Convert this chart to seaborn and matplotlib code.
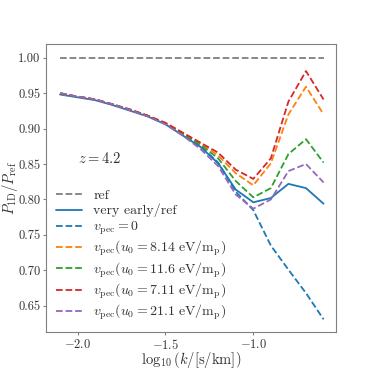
import numpy as np
import pandas as pd
import matplotlib
matplotlib.use("Agg")
import matplotlib.pyplot as plt
import seaborn as sns

sns.set_style("ticks")
plt.rcParams.update({
    "font.family": "serif",
    "font.serif": ["cmr10", "DejaVu Serif"],
    "mathtext.fontset": "cm",
    "axes.formatter.use_mathtext": True,
    "font.size": 10.5,
    "axes.edgecolor": "#808080",
    "xtick.color": "#808080",
    "ytick.color": "#808080",
    "xtick.labelcolor": "#333333",
    "ytick.labelcolor": "#333333",
})

# log10(k / [s/km])
logk = [-2.1, -2.0, -1.9, -1.8, -1.7, -1.6, -1.5, -1.4, -1.3, -1.2, -1.1,
        -1.0, -0.9, -0.8, -0.7, -0.6]

ref = [1.0] * len(logk)
very_early = [0.948, 0.944, 0.940, 0.933, 0.925, 0.917, 0.906, 0.890, 0.874,
              0.851, 0.814, 0.796, 0.802, 0.822, 0.816, 0.794]
vpec_zero = [0.949, 0.945, 0.941, 0.934, 0.926, 0.918, 0.907, 0.891, 0.875,
             0.852, 0.811, 0.785, 0.735, 0.701, 0.668, 0.631]
vpec_814 = [0.949, 0.945, 0.941, 0.934, 0.926, 0.918, 0.908, 0.893, 0.879,
            0.862, 0.837, 0.820, 0.851, 0.920, 0.959, 0.920]
vpec_116 = [0.949, 0.945, 0.941, 0.934, 0.926, 0.918, 0.907, 0.892, 0.877,
            0.858, 0.826, 0.803, 0.816, 0.864, 0.885, 0.852]
vpec_711 = [0.950, 0.945, 0.941, 0.934, 0.927, 0.918, 0.908, 0.894, 0.880,
            0.866, 0.842, 0.829, 0.858, 0.938, 0.981, 0.941]
vpec_211 = [0.950, 0.945, 0.941, 0.934, 0.926, 0.917, 0.906, 0.890, 0.871,
            0.847, 0.807, 0.787, 0.800, 0.840, 0.850, 0.824]

series = [
    ("ref", ref, "tab:gray", "--"),
    ("very early/ref", very_early, "tab:blue", "-"),
    (r"$v_{\rm pec}=0$", vpec_zero, "tab:blue", "--"),
    (r"$v_{\rm pec}(u_0=8.14\ {\rm eV/m_p})$", vpec_814, "tab:orange", "--"),
    (r"$v_{\rm pec}(u_0=11.6\ {\rm eV/m_p})$", vpec_116, "tab:green", "--"),
    (r"$v_{\rm pec}(u_0=7.11\ {\rm eV/m_p})$", vpec_711, "tab:red", "--"),
    (r"$v_{\rm pec}(u_0=21.1\ {\rm eV/m_p})$", vpec_211, "tab:purple", "--"),
]

fig = plt.figure(figsize=(3.74, 3.74), dpi=100)
ax = fig.add_axes([0.123, 0.112, 0.775, 0.77])

for label, vals, color, ls in series:
    df = pd.DataFrame({"logk": logk, "ratio": vals})
    sns.lineplot(data=df, x="logk", y="ratio", ax=ax, color=color,
                 linestyle=ls, linewidth=1.3, label=label)

ax.text(-2.0, 0.852, r"$z=4.2$", fontsize=10.5, color="#333333")

ax.set_xlim(-2.18, -0.53)
ax.set_ylim(0.613, 1.019)
ax.set_xticks([-2.0, -1.5, -1.0])
ax.set_yticks([0.65, 0.70, 0.75, 0.80, 0.85, 0.90, 0.95, 1.00])
ax.set_yticklabels(["0.65", "0.70", "0.75", "0.80", "0.85", "0.90", "0.95", "1.00"])
ax.set_xticklabels([r"$-2.0$", r"$-1.5$", r"$-1.0$"])
ax.tick_params(length=2.5, width=0.8, pad=1.5, labelsize=9)
ax.set_xlabel(r"$\log_{10}(k/[{\rm s/km}])$", labelpad=-1, color="#333333")
ax.set_ylabel(r"$P_{\rm 1D}/P_{\rm ref}$", color="#333333")
ax.yaxis.set_label_coords(-0.09, 0.5)

leg = ax.legend(loc="lower left", frameon=False, handlelength=1.9,
                labelspacing=0.15, borderaxespad=0.3, fontsize=10)
for t in leg.get_texts():
    t.set_color("#333333")

fig.savefig("out.png", dpi=100)
